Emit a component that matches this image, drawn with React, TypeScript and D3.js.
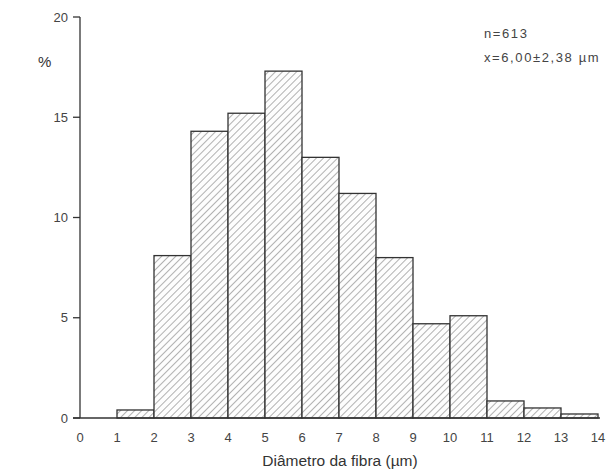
import React from "react";
import * as d3 from "d3";

const binStarts = [1, 2, 3, 4, 5, 6, 7, 8, 9, 10, 11, 12, 13];
const percentages = [0.4, 8.1, 14.3, 15.2, 17.3, 13.0, 11.2, 8.0, 4.7, 5.1, 0.85, 0.5, 0.2];
const xTicks = [0, 1, 2, 3, 4, 5, 6, 7, 8, 9, 10, 11, 12, 13, 14];
const yTicks = [0, 5, 10, 15, 20];
const annotations = ["n=613", "x=6,00±2,38 µm"];

export default function App() {
  const width = 614;
  const height = 475;
  const x = d3.scaleLinear().domain([0, 14]).range([80, 598]);
  const y = d3.scaleLinear().domain([0, 20]).range([418, 17]);
  const font = "'Liberation Sans', Arial, sans-serif";
  const tickColor = "#444";
  const bins = binStarts.map((s, i) => ({ x0: s, x1: s + 1, v: percentages[i] }));

  return (
    <svg width={width} height={height} style={{ position: "absolute", left: 0, top: 0, background: "#fff" }}>
      <defs>
        <pattern id="hatch" patternUnits="userSpaceOnUse" width="5" height="5" patternTransform="rotate(45)">
          <rect width="5" height="5" fill="#fdfdfd" />
          <line x1="0" y1="0" x2="0" y2="5" stroke="#666" strokeWidth="1" />
        </pattern>
      </defs>
      {bins.map((b, i) => (
        <rect
          key={i}
          x={x(b.x0)}
          y={y(b.v)}
          width={x(b.x1) - x(b.x0)}
          height={y(0) - y(b.v)}
          fill="url(#hatch)"
          stroke="#333"
          strokeWidth={1.3}
        />
      ))}
      {/* y axis */}
      <line x1={x(0)} x2={x(0)} y1={y(20)} y2={y(0)} stroke="#333" strokeWidth={1.3} />
      {yTicks.map((t) => (
        <g key={t}>
          <line x1={x(0) - 7} x2={x(0)} y1={y(t)} y2={y(t)} stroke="#333" strokeWidth={1.3} />
          <text x={x(0) - 12} y={y(t)} dy="0.35em" textAnchor="end" fontSize={13} fontFamily={font} fill={tickColor}>
            {t}
          </text>
        </g>
      ))}
      {/* x axis */}
      <line x1={x(0) - 7} x2={x(14) + 2} y1={y(0)} y2={y(0)} stroke="#333" strokeWidth={1.3} />
      {xTicks.map((t) => (
        <text key={t} x={x(t)} y={442} textAnchor="middle" fontSize={13} fontFamily={font} fill={tickColor}>
          {t}
        </text>
      ))}
      <text x={340} y={466} textAnchor="middle" fontSize={15.5} fontFamily={font} fill="#333">
        Diâmetro da fibra (µm)
      </text>
      <text x={38} y={67} fontSize={15} fontFamily={font} fill="#333">%</text>
      <text x={484} y={38} fontSize={13} letterSpacing={1.6} fontFamily={font} fill="#444">{annotations[0]}</text>
      <text x={484} y={62} fontSize={13} letterSpacing={1.6} fontFamily={font} fill="#444">{annotations[1]}</text>
    </svg>
  );
}
